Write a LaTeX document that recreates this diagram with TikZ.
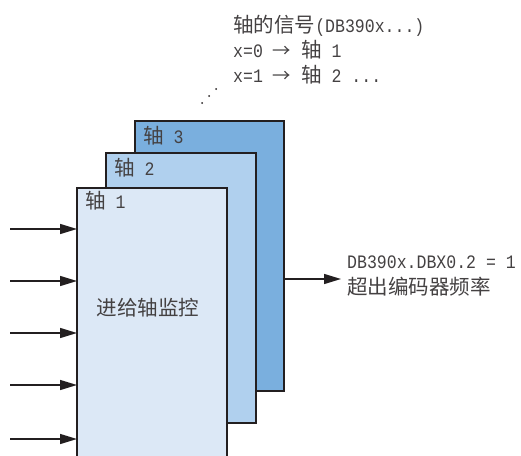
\documentclass[tikz,border=0pt]{standalone}
\usepackage{fontspec}
\setmainfont{Liberation Mono}[FakeStretch=0.87]
\newfontfamily\cjk[Scale=1.08]{Noto Sans CJK SC}
\newcommand{\tarrow}{{\fontsize{17}{25}\selectfont\cjk →}}
\usetikzlibrary{arrows.meta}
\definecolor{axisC}{RGB}{122,175,222}
\definecolor{axisB}{RGB}{176,208,238}
\definecolor{axisA}{RGB}{220,232,246}
\definecolor{edge}{RGB}{35,31,32}
\begin{document}
\begin{tikzpicture}[x=1pt,y=-1pt,
  every node/.style={font=\fontsize{19}{25}\selectfont, text=edge!85},
  axbox/.style={draw=edge, line width=2pt, inner sep=0pt, outer sep=0pt, anchor=north west},
  lbl/.style={inner sep=0pt, anchor=base west},
  arr/.style={draw=edge, line width=1.4pt, -{Triangle[length=17pt,width=10pt]}}]
\useasboundingbox (0,0) rectangle (521,455);
% stacked boxes
\node[axbox, fill=axisC, minimum width=149pt, minimum height=270pt] (b3) at (135,121) {};
\node[axbox, fill=axisB, minimum width=150pt, minimum height=270pt] (b2) at (106,153) {};
\node[axbox, fill=axisA, minimum width=150pt, minimum height=275pt] (b1) at (77,188) {};
% box labels
\node[lbl] (l3) at (143,143) {{\cjk 轴} 3};
\node[lbl] (l2) at (114,175) {{\cjk 轴} 2};
\node[lbl] (l1) at (85,208) {{\cjk 轴} 1};
\node[inner sep=0pt] (mon) at (148,308) {\cjk 进给轴监控};
% input arrows
\coordinate (in1) at (10,229);
\coordinate (in2) at (10,281);
\coordinate (in3) at (10,333);
\coordinate (in4) at (10,385);
\coordinate (in5) at (10,439);
\foreach \i in {1,...,5} \draw[arr] (in\i) -- (in\i -| b1.west);
% output arrow
\coordinate (out) at (341,279);
\draw[arr] (b3.east |- out) -- (out);
\node[lbl] (o1) at (347,268) {DB390x.DBX0.2 = 1};
\node[lbl] (o2) at (347,294) {\cjk 超出编码器频率};
% top notes
\node[lbl] (t1) at (233,32) {{\cjk 轴的信号}(DB390x...)};
\node[lbl] (t2) at (233,57) {x=0 \tarrow{} {\cjk 轴} 1};
\node[lbl] (t3) at (233,82) {x=1 \tarrow{} {\cjk 轴} 2 ...};
% dots
\fill[edge] (202,103) circle (1pt) (209,96) circle (1pt) (216,89) circle (1pt);
\end{tikzpicture}
\end{document}
